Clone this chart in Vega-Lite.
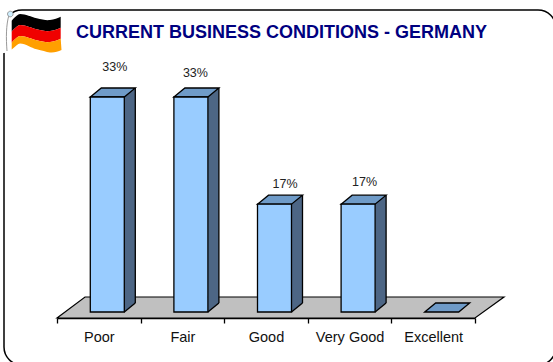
{"$schema":"https://vega.github.io/schema/vega-lite/v6.json","width":552,"height":355,"padding":{"left":4,"top":10,"right":-3,"bottom":-3},"autosize":{"type":"none"},"background":"white","view":{"stroke":"black","strokeWidth":1.5,"cornerRadius":18,"fill":"white"},"title":{"text":"CURRENT BUSINESS CONDITIONS - GERMANY","anchor":"start","frame":"group","orient":"top","offset":-35,"dx":72,"font":"Liberation Sans","fontSize":18,"fontWeight":"bold","color":"#000080"},"data":{"values":[{"rating":"Poor","share":0.333},{"rating":"Fair","share":0.333},{"rating":"Good","share":0.167},{"rating":"Very Good","share":0.167},{"rating":"Excellent","share":0}]},"encoding":{"x":{"field":"rating","type":"nominal","title":null,"scale":{"domain":["Poor","Fair","Good","Very Good","Excellent"],"range":[53,471],"paddingInner":0,"paddingOuter":0},"axis":{"offset":-47,"labelAngle":0,"labelFont":"Liberation Sans","labelFontSize":14.5,"labelColor":"#111","labelPadding":7,"tickColor":"black","domainColor":"black","tickSize":5,"tickBand":"extent","grid":false,"domainWidth":1.3,"tickWidth":1.3}},"y":{"field":"share","type":"quantitative","title":null,"scale":{"domain":[0,0.333],"range":[302,87],"nice":false,"zero":true},"axis":null}},"layer":[{"transform":[{"filter":"datum.rating==='Good'"}],"mark":{"type":"point","filled":true,"size":4,"shape":"M-209,6L-181,-15L238,-15L209,6Z","fill":"#C0C0C0","stroke":"black","strokeWidth":1.2,"opacity":1},"encoding":{"y":{"datum":0}}},{"transform":[{"filter":"datum.share>0"}],"mark":{"type":"point","filled":true,"size":4,"shape":"M25.5,0L36.5,-9L25.5,-9Z","fill":"#4D6685","stroke":null,"opacity":1},"encoding":{"y":{"datum":0}}},{"transform":[{"filter":"datum.share>0"}],"mark":{"type":"bar","width":11,"xOffset":31,"yOffset":-9,"y2Offset":-9,"fill":"#4D6685"}},{"transform":[{"filter":"datum.share>0"}],"mark":{"type":"rule","xOffset":36.5,"yOffset":-9,"y2Offset":-9,"stroke":"black","strokeWidth":1.3},"encoding":{"y2":{"datum":0}}},{"transform":[{"filter":"datum.share>0"}],"mark":{"type":"point","filled":false,"size":4,"shape":"M25.5,0L36.5,-9","stroke":"black","strokeWidth":1.3,"opacity":1},"encoding":{"y":{"datum":0}}},{"mark":{"type":"point","filled":true,"size":4,"shape":"M-8.5,0L2.5,-9L36.5,-9L25.5,0Z","fill":"#6F9BC8","stroke":"black","strokeWidth":1.3,"opacity":1}},{"transform":[{"filter":"datum.share>0"}],"mark":{"type":"bar","width":34,"xOffset":8.5,"fill":"#99CCFF","stroke":"black","strokeWidth":1.3}},{"transform":[{"filter":"datum.rating==='Poor'"}],"mark":{"type":"text","dx":16,"dy":-30,"font":"Liberation Sans","fontSize":12.5,"color":"#222"},"encoding":{"text":{"field":"share","format":".0%"}}},{"transform":[{"filter":"datum.rating==='Fair'"}],"mark":{"type":"text","dx":13,"dy":-24,"font":"Liberation Sans","fontSize":12.5,"color":"#222"},"encoding":{"text":{"field":"share","format":".0%"}}},{"transform":[{"filter":"datum.rating==='Good'"}],"mark":{"type":"text","dx":19,"dy":-20,"font":"Liberation Sans","fontSize":12.5,"color":"#222"},"encoding":{"text":{"field":"share","format":".0%"}}},{"transform":[{"filter":"datum.rating==='Very Good'"}],"mark":{"type":"text","dx":15,"dy":-22,"font":"Liberation Sans","fontSize":12.5,"color":"#222"},"encoding":{"text":{"field":"share","format":".0%"}}},{"data":{"values":[{"part":"flag"}]},"encoding":{"x":{"value":32},"y":{"value":23}},"layer":[{"mark":{"type":"point","filled":false,"size":4,"shape":"M-28,-18C-33,-8 -33,5 -32,20","stroke":"white","strokeWidth":4,"opacity":1}},{"mark":{"type":"point","filled":false,"size":4,"shape":"M-27,-18C-30,-8 -30,5 -29,18","stroke":"#999","strokeWidth":1,"opacity":1}},{"mark":{"type":"point","filled":true,"size":4,"shape":"M-24.3,-12.3C-21,-16 -18,-19 -16,-19C-10,-19 -5,-16 0.7,-14.7C6,-13.5 10,-12.5 14,-13C18,-13.5 22,-15 24.7,-16.3L24.7,-5.3C22,-4 18,-2.5 14,-2C10,-1.5 6,-2.5 0.7,-3.7C-5,-5 -10,-8 -16,-8C-18,-8 -21,-5 -24.3,-1.3Z","fill":"#000000","stroke":null,"opacity":1}},{"mark":{"type":"point","filled":true,"size":4,"shape":"M-24.3,-1.3C-21,-5 -18,-8 -16,-8C-10,-8 -5,-5 0.7,-3.7C6,-2.5 10,-1.5 14,-2C18,-2.5 22,-4 24.7,-5.3L24.7,5.7C22,7 18,8.5 14,9C10,9.5 6,8.5 0.7,7.3C-5,6 -10,3 -16,3C-18,3 -21,6 -24.3,9.7Z","fill":"#F00000","stroke":null,"opacity":1}},{"mark":{"type":"point","filled":true,"size":4,"shape":"M-24.3,9.7C-21,6 -18,3 -16,3C-10,3 -5,6 0.7,7.3C6,8.5 10,9.5 14,9C18,8.5 22,7 24.7,5.7L25.5,17C22,18.5 18,20 14,19.5C10,19 6,17.5 0.7,16.3C-5,15 -10,10.5 -16,10.5C-18,10.5 -21,14 -24.3,16.5Z","fill":"#FF9F00","stroke":null,"opacity":1}},{"mark":{"type":"point","filled":true,"size":4,"shape":"M-28.5,-19a2.8,2.8 0 1,0 5.6,0a2.8,2.8 0 1,0 -5.6,0Z","fill":"#CFEFFF","stroke":"#888","strokeWidth":0.8,"opacity":1}}]}]}
